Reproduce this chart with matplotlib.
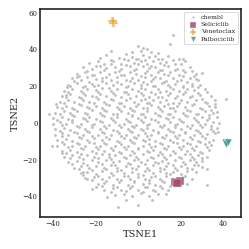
import matplotlib
matplotlib.use("Agg")
import matplotlib.pyplot as plt
import seaborn as sns

# background compounds (tsne coords)
chembl_pts = [
    (-18,35.5),(-15,36.8),(-9,35.2),(-6,37.5),(-3,36),(0,35),(2,37),(5,35.8),(8,36.5),(11,34.8),(14,36.2),(19,35),
    (-23,32.5),(-19,33.8),(-16,32),(-12,33.5),(-8,32.2),(-5,34),(-2,32.6),(1,33.4),(4,32),(7,33.8),(10,32.5),(13,33.2),(17,32),(22,33.5),
    (-26,30.5),(-22,29.4),(-18,31),(-15,29.8),(-11,30.6),(-8,29.2),(-4,30.8),(-1,29.5),(2,31),(5,29.6),(8,30.4),(11,29),(14,30.8),(18,29.5),(24,30.2),
    (-29,26.5),(-25,27.6),(-21,26.2),(-18,27.8),(-14,26.5),(-11,27.4),(-7,26),(-4,27.6),(-1,26.4),(3,27.2),(6,26),(9,27.8),(12,26.6),(15,27.4),(19,26.2),(22,27.5),(27,26.8),
    (-31,24.5),(-27,23.4),(-24,24.8),(-20,23.6),(-17,24.4),(-13,23.2),(-10,24.8),(-6,23.5),(-3,24.6),(0,23.2),(3,24.8),(7,23.6),(10,24.4),(13,23),(16,24.6),(20,23.4),(24,24.2),(28,23.5),
    (-33,20.5),(-29,21.6),(-25,20.2),(-22,21.4),(-19,20.4),(-15,21.8),(-12,20.6),(-8,21.2),(-5,20),(-2,21.6),(1,20.4),(4,21.2),(8,20.2),(11,21.6),(14,20.4),(17,21.2),(21,20),(25,21.4),(29,20.6),
    (-35,17.5),(-31,18.6),(-27,17.2),(-24,18.4),(-20,17.6),(-17,18.8),(-13,17.4),(-10,18.2),(-7,17),(-3,18.6),(0,17.4),(3,18.2),(6,17),(9,18.6),(13,17.4),(16,18.4),(19,17.2),(23,18.6),(26,17.6),(31,18.2),
    (-36,14.5),(-32,15.6),(-28,14.2),(-25,15.4),(-22,14.6),(-18,15.8),(-15,14.4),(-11,15.2),(-8,14),(-5,15.6),(-1,14.4),(2,15.2),(5,14),(8,15.6),(11,14.2),(14,15.4),(18,14.6),(21,15.8),(25,14.4),(29,15.2),(34,14.6),
    (-37,11.5),(-33,12.6),(-30,11.2),(-26,12.4),(-23,11.6),(-19,12.8),(-16,11.4),(-12,12.2),(-9,11),(-6,12.6),(-2,11.4),(1,12.2),(4,11),(7,12.6),(10,11.4),(13,12.2),(16,11),(20,12.6),(23,11.4),(27,12.2),(31,11.6),(36,12.4),
    (-38,8.6),(-34,9.4),(-31,8.2),(-27,9.6),(-24,8.4),(-20,9.2),(-17,8),(-14,9.6),(-10,8.4),(-7,9.2),(-4,8),(-1,9.4),(2,8.2),(6,9.6),(9,8.4),(12,9.2),(15,8),(18,9.4),(22,8.6),(25,9.8),(29,8.2),(33,9),(36,8.4),
    (-39,5.5),(-35,6.6),(-32,5.2),(-29,6.4),(-25,5.6),(-22,6.8),(-18,5.4),(-15,6.2),(-12,5),(-8,6.6),(-5,5.4),(-2,6.2),(1,5),(4,6.6),(8,5.4),(11,6.2),(14,5),(17,6.6),(21,5.4),(24,6.2),(27,5),(31,6.4),(35,5.6),
    (-40,2.6),(-36,3.4),(-33,2.2),(-30,3.6),(-26,2.4),(-23,3.2),(-20,2),(-16,3.6),(-13,2.4),(-10,3.2),(-6,2),(-3,3.6),(0,2.4),(3,3.2),(6,2),(10,3.6),(13,2.4),(16,3.2),(19,2),(23,3.6),(26,2.4),(30,3.2),(33,2.6),(37,3.4),
    (-40,-0.5),(-37,0.6),(-34,-0.8),(-31,0.4),(-27,-0.4),(-24,0.8),(-21,-0.6),(-17,0.2),(-14,-1),(-11,0.6),(-7,-0.6),(-4,0.2),(-1,-1),(2,0.6),(5,-0.6),(9,0.2),(12,-1),(15,0.6),(18,-0.6),(21,0.2),(25,-1),(28,0.6),(31,-0.4),(35,0.4),
    (-39,-3.4),(-35,-2.6),(-32,-3.8),(-28,-2.4),(-25,-3.6),(-22,-2.2),(-18,-3.4),(-15,-2.6),(-12,-3.8),(-8,-2.4),(-5,-3.6),(-2,-2.2),(1,-3.4),(4,-2.6),(7,-3.8),(11,-2.4),(14,-3.6),(17,-2.2),(20,-3.4),(24,-2.6),(27,-3.8),(30,-2.4),(34,-3.2),(37,-2.8),
    (-39,-6.4),(-36,-5.6),(-33,-6.8),(-29,-5.4),(-26,-6.6),(-23,-5.2),(-19,-6.4),(-16,-5.6),(-13,-6.8),(-9,-5.4),(-6,-6.6),(-3,-5.2),(0,-6.4),(3,-5.6),(6,-6.8),(9,-5.4),(13,-6.6),(16,-5.2),(19,-6.4),(22,-5.6),(26,-6.8),(29,-5.4),(32,-6.2),(36,-5.8),
    (-38,-9.4),(-34,-8.6),(-31,-9.8),(-27,-8.4),(-24,-9.6),(-21,-8.2),(-17,-9.4),(-14,-8.6),(-10,-9.8),(-7,-8.4),(-4,-9.6),(-1,-8.2),(2,-9.4),(5,-8.6),(8,-9.8),(12,-8.4),(15,-9.6),(18,-8.2),(21,-9.4),(25,-8.6),(28,-9.8),(31,-8.4),(35,-9.2),
    (-38,-12.5),(-35,-11.6),(-31,-12.8),(-28,-11.4),(-25,-12.6),(-21,-11.2),(-18,-12.4),(-15,-11.6),(-11,-12.8),(-8,-11.4),(-5,-12.6),(-2,-11.2),(2,-12.4),(5,-11.6),(8,-12.8),(11,-11.4),(14,-12.6),(18,-11.2),(21,-12.4),(24,-11.6),(27,-12.8),(31,-11.4),(34,-12.2),
    (-36,-15.4),(-32,-14.6),(-29,-15.8),(-26,-14.4),(-22,-15.6),(-19,-14.2),(-16,-15.4),(-12,-14.6),(-9,-15.8),(-6,-14.4),(-3,-15.6),(0,-14.2),(4,-15.4),(7,-14.6),(10,-15.8),(13,-14.4),(16,-15.6),(20,-14.2),(23,-15.4),(26,-14.6),(29,-15.8),(33,-14.8),
    (-35,-18.4),(-31,-17.6),(-28,-18.8),(-24,-17.4),(-21,-18.6),(-17,-17.2),(-14,-18.4),(-11,-17.6),(-7,-18.8),(-4,-17.4),(-1,-18.6),(2,-17.2),(6,-18.4),(9,-17.6),(12,-18.8),(15,-17.4),(19,-18.6),(22,-17.2),(25,-18.4),(28,-17.6),(32,-18.6),
    (-33,-21.4),(-29,-20.6),(-26,-21.8),(-22,-20.4),(-19,-21.6),(-15,-20.2),(-12,-21.4),(-9,-20.6),(-5,-21.8),(-2,-20.4),(1,-21.6),(4,-20.2),(8,-21.4),(11,-20.6),(14,-21.8),(17,-20.4),(21,-21.6),(24,-20.2),(27,-21.4),(30,-20.8),
    (-30,-24.4),(-27,-23.6),(-23,-24.8),(-20,-23.4),(-16,-24.6),(-13,-23.2),(-10,-24.4),(-6,-23.6),(-3,-24.8),(0,-23.4),(4,-24.6),(7,-23.2),(10,-24.4),(13,-23.6),(17,-24.8),(20,-23.4),(23,-24.6),(26,-23.2),(30,-24.2),
    (-27,-27.4),(-24,-26.6),(-20,-27.8),(-17,-26.4),(-13,-27.6),(-10,-26.2),(-7,-27.4),(-3,-26.6),(0,-27.8),(3,-26.4),(7,-27.6),(10,-26.2),(13,-27.4),(16,-26.6),(20,-27.8),(23,-26.4),(27,-26.8),
    (-24,-30.4),(-21,-29.6),(-17,-30.8),(-14,-29.4),(-10,-30.6),(-7,-29.2),(-4,-30.4),(0,-29.6),(3,-30.8),(6,-29.4),(10,-30.6),(13,-29.2),(21,-29.6),(25,-30.4),
    (-19,-33.4),(-16,-32.6),(-12,-33.8),(-9,-32.4),(-5,-33.6),(-2,-32.2),(2,-33.4),(5,-32.6),(8,-33.8),(12,-32.4),(15,-34.6),(23,-33.4),
    (-16,-36.4),(-12,-35.6),(-8,-36.8),(-4,-35.4),(0,-36.6),(4,-35.2),(7,-36.4),(11,-35.6),(14,-36.8),
    (-11,-39.4),(-7,-38.6),(-3,-39.8),(1,-38.4),(5,-39.6),(9,-38.8),
    # in-between rows, the core is denser
    (-3,38.8),(1,39.2),(9,38.2),
    (-13,34.2),(-7,35),(-1,34.6),(3,34.2),(9,34.8),(16,34),
    (-20,31.2),(-13,31.8),(-6,31.4),(0,31.9),(6,31.2),(12,31.6),(20,31.8),
    (-24,28.2),(-16,28.8),(-9,28.4),(-2,28.9),(4,28.2),(10,28.6),(17,28.8),(25,28.2),
    (-28,25.4),(-22,25.9),(-15,25.2),(-8,25.8),(1,25.6),(8,25.1),(14,25.9),(21,25.3),(26,25.7),
    (-30,22.6),(-23,22.2),(-17,22.9),(-10,22.4),(-4,22.8),(2,22.1),(6,22.9),(12,22.3),(18,22.7),(23,22.2),
    (-32,19.8),(-26,19.3),(-21,19.9),(-14,19.2),(-6,19.7),(1,19.1),(7,19.8),(15,19.4),(21,19.7),(28,19.3),
    (-33,16.8),(-26,16.3),(-19,16.9),(-12,16.2),(-6,16.7),(1,16.1),(10,16.8),(15,16.3),(22,16.8),(28,16.2),(32,16.7),
    (-34,13.8),(-27,13.3),(-20,13.9),(-13,13.2),(-4,13.7),(3,13.1),(9,13.8),(17,13.3),(24,13.9),(30,13.2),
    (-35,10.8),(-28,10.3),(-21,10.9),(-15,10.2),(-8,10.8),(0,10.1),(5,10.7),(14,10.3),(19,10.9),(26,10.2),(32,10.6),
    (-36,7.8),(-30,7.3),(-23,7.9),(-16,7.2),(-9,7.7),(-3,7.1),(4,7.8),(10,7.3),(16,7.9),(23,7.2),(30,7.7),(34,7.1),
    (-37,4.8),(-31,4.3),(-24,4.9),(-17,4.2),(-10,4.7),(-3,4.1),(2,4.8),(9,4.3),(15,4.9),(22,4.2),(28,4.7),(33,4.2),
    (-38,1.8),(-31,1.3),(-25,1.9),(-18,1.2),(-12,1.7),(-5,1.1),(1,1.8),(8,1.3),(14,1.9),(20,1.2),(27,1.7),(32,1.3),
    (-36,-1.2),(-29,-1.8),(-22,-1.3),(-16,-1.9),(-9,-1.2),(-3,-1.7),(4,-1.1),(10,-1.8),(17,-1.3),(23,-1.9),(29,-1.2),(34,-1.6),
    (-37,-4.2),(-30,-4.8),(-24,-4.3),(-17,-4.9),(-10,-4.2),(-4,-4.7),(2,-4.1),(9,-4.8),(15,-4.3),(22,-4.9),(28,-4.2),(35,-4.6),
    (-36,-7.2),(-28,-7.8),(-22,-7.3),(-15,-7.9),(-8,-7.2),(-2,-7.7),(4,-7.1),(11,-7.8),(17,-7.3),(24,-7.9),(30,-7.2),
    (-36,-10.2),(-29,-10.8),(-23,-10.3),(-16,-10.9),(-9,-10.2),(-3,-10.7),(3,-10.1),(10,-10.8),(16,-10.3),(23,-10.9),(29,-10.2),(33,-10.6),
    (-33,-13.2),(-27,-13.8),(-20,-13.3),(-13,-13.9),(-7,-13.2),(0,-13.7),(6,-13.1),(12,-13.8),(19,-13.3),(25,-13.9),(32,-13.2),
    (-34,-16.2),(-27,-16.8),(-20,-16.3),(-14,-16.9),(-8,-16.2),(-2,-16.7),(5,-16.1),(11,-16.8),(17,-16.3),(24,-16.9),(30,-16.2),
    (-32,-19.2),(-26,-19.8),(-19,-19.3),(-13,-19.9),(-6,-19.2),(0,-19.7),(7,-19.1),(13,-19.8),(20,-19.3),(26,-19.9),(30,-19.2),
    (-31,-22.2),(-24,-22.8),(-17,-22.3),(-11,-22.9),(-4,-22.2),(3,-22.7),(9,-22.1),(16,-22.8),(22,-22.3),(28,-22.9),
    (-28,-25.2),(-22,-25.8),(-15,-25.3),(-8,-25.9),(-1,-25.2),(5,-25.7),(12,-25.1),(18,-25.8),(25,-25.3),
    (-26,-28.2),(-19,-28.8),(-12,-28.3),(-5,-28.9),(2,-28.2),(8,-28.7),(15,-28.1),(22,-28.8),
    (-22,-31.2),(-15,-31.8),(-8,-31.3),(-2,-31.9),(5,-31.2),(11,-31.7),
    (-17,-34.2),(-10,-34.8),(-3,-34.3),(3,-34.9),(10,-34.2),
    (-13,-37.8),(-6,-37.3),(2,-37.9),(8,-37.2),
    # sparse outliers round the edge
    (16,48),(15,43),(0,42),(2,41),(4,40),(-13,39),(6,38.5),(21,35),(21,29),(30,27),(25,20),(27,24),
    (41,13),(37,6),(38,0),(36,10),(37.5,-5),(32,-25),(32,-34),(-42,5),(-40.5,-12.5),(-38.7,10),
    (-35.7,-16.7),(-29,25),(-26,-27),(-9.5,-46),(0,-45),(-6,-42),(-14.7,-40.5),(6.5,-42),(13,-38.5),
    (-21.6,-36),(-20,-35),(-25,-30),(-34,15),(-33.5,19.5),
]
chembl_x = [p[0] for p in chembl_pts]
chembl_y = [p[1] for p in chembl_pts]

# drugs of interest, a few overlapping hits each
selic_x = [17.2, 18.4, 19.3, 18.0]
selic_y = [-32.0, -33.0, -31.6, -32.6]
venet_x = [-12.4, -11.6, -12.0, -11.8]
venet_y = [55.6, 54.6, 54.2, 55.2]
palbo_x = [40.6, 41.6, 41.0, 42.0]
palbo_y = [-10.4, -10.8, -11.6, -10.2]

sns.set_style("white")
plt.rcParams["font.family"] = "serif"
plt.rcParams["font.serif"] = ["DejaVu Serif"]

fig = plt.figure(figsize=(2.49, 2.49), dpi=100)
ax = fig.add_axes([0.162, 0.127, 0.805, 0.837])

ax.scatter(chembl_x, chembl_y, s=5, color="#b3b3b3", edgecolor="white",
           linewidth=0.2, alpha=0.85, label="chembl")
ax.scatter(selic_x, selic_y, s=26, marker="s", color="#a34d6d", edgecolor="white",
           linewidth=0.3, alpha=0.85, label="Seliciclib")
ax.scatter(venet_x, venet_y, s=26, marker="P", color="#f2a024", edgecolor="white",
           linewidth=0.3, alpha=0.85, label="Venetoclax")
ax.scatter(palbo_x, palbo_y, s=26, marker="v", color="#3c9a91", edgecolor="white",
           linewidth=0.3, alpha=0.85, label="Palbociclib")

ax.set_xlim(-46, 48)
ax.set_ylim(-51.5, 62)
ax.set_xticks([-40, -20, 0, 20, 40])
ax.set_yticks([-40, -20, 0, 20, 40, 60])
ax.tick_params(labelsize=5, length=0, pad=2)
ax.set_xlabel("TSNE1", fontsize=7, labelpad=1)
ax.set_ylabel("TSNE2", fontsize=7, labelpad=2)
for sp in ax.spines.values():
    sp.set_color("#222222")
    sp.set_linewidth(1.2)

leg = ax.legend(loc="upper right", fontsize=4.5, markerscale=0.8, handletextpad=0.3,
                borderpad=0.4, labelspacing=0.3, framealpha=1)
leg.get_frame().set_linewidth(0.5)

fig.savefig("out.png", dpi=100)
